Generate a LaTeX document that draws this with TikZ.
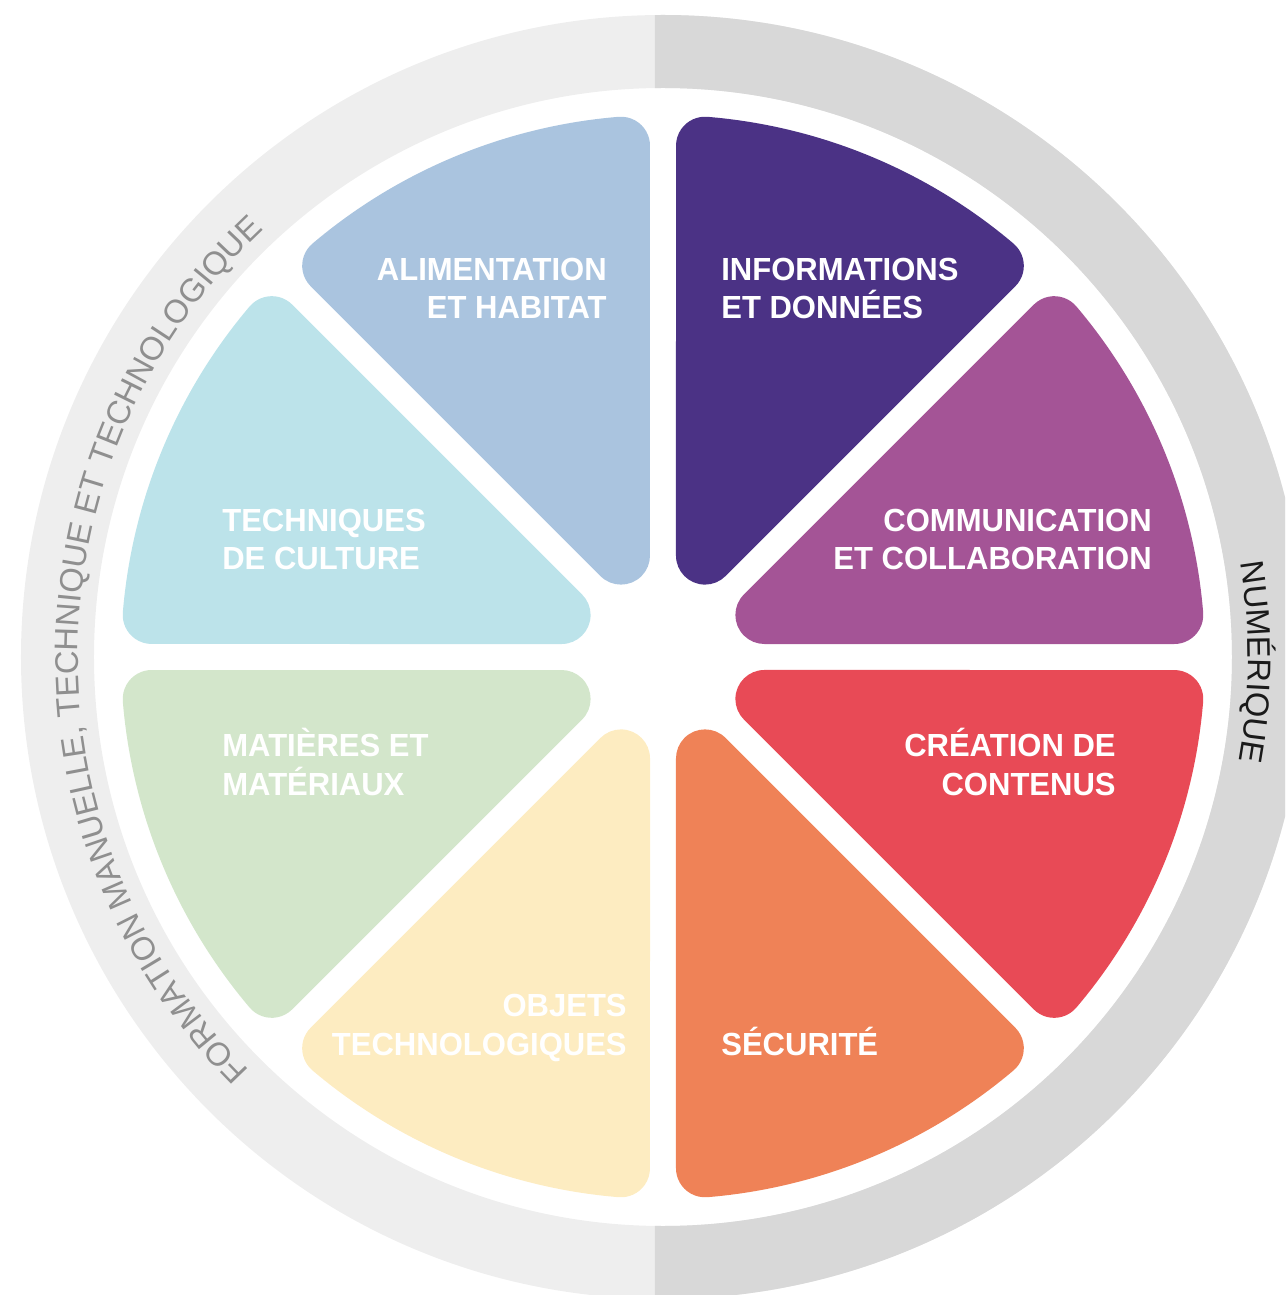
\documentclass[tikz,border=0pt]{standalone}
\usepackage{fontspec}
\setmainfont{Liberation Sans}
\newfontfamily\labelfont{Liberation Sans}[FakeStretch=0.97]
\usetikzlibrary{decorations.text}

\definecolor{ringlight}{HTML}{EEEEEE}
\definecolor{ringdark}{HTML}{D8D8D8}
\definecolor{ringgray}{HTML}{8F8F8F}
\definecolor{ringblack}{HTML}{1A1A1A}
\definecolor{commcol}{HTML}{A45496}
\definecolor{infocol}{HTML}{4B3285}
\definecolor{alimcol}{HTML}{AAC4DF}
\definecolor{techcol}{HTML}{BCE3EA}
\definecolor{matcol}{HTML}{D3E6CB}
\definecolor{objcol}{HTML}{FDECC1}
\definecolor{seccol}{HTML}{EF8257}
\definecolor{creacol}{HTML}{E84A56}

% one rounded wedge, from 0 to 45 degrees
\newcommand{\petal}{(101.39,13) -- (511.28,13)
  arc[start angle=-90, end angle=4.696, radius=29]
  arc[start angle=4.696, end angle=40.304, radius=542]
  arc[start angle=40.304, end angle=135, radius=29]
  -- (80.88,62.51) arc[start angle=135, end angle=270, radius=29] -- cycle}

\tikzset{
  petallabel/.style={text=white, inner sep=0pt, font=\labelfont\bfseries\fontsize{18.2}{22.1}\selectfont},
  ringtext/.style={decorate, decoration={text along path, text align=center, text={#1}}}
}

\begin{document}
\begin{tikzpicture}[x=0.02cm,y=0.02cm]
\useasboundingbox (-663,-638) rectangle (622,657);
\clip (-663,-638) rectangle (622,657);

%ring
\fill[ringlight, even odd rule] (0,0) circle (642) (0,0) circle (569);
\begin{scope}
\clip (-8,-700) rectangle (700,700);
\fill[ringdark, even odd rule] (0,0) circle (642) (0,0) circle (569);
\end{scope}

%ring text
\path[ringtext={|\color{ringgray}\fontsize{18.6}{22}\selectfont|FORMATION MANUELLE, TECHNIQUE ET TECHNOLOGIQUE}]
  (230:585) arc[start angle=230, end angle=128, radius=585];
\path[ringtext={|\color{ringblack}\fontsize{18.6}{22}\selectfont|NUMÉRIQUE}]
  (16:585) arc[start angle=16, end angle=-17, radius=585];

%petals
\fill[commcol, rotate=0] \petal;
\fill[infocol, rotate=45] \petal;
\fill[alimcol, rotate=90] \petal;
\fill[techcol, rotate=135] \petal;
\fill[matcol, rotate=180] \petal;
\fill[objcol, rotate=225] \petal;
\fill[seccol, rotate=270] \petal;
\fill[creacol, rotate=315] \petal;

%labels (base = last line)
\node[petallabel, anchor=base east, align=right] (alim) at (-56,338) {ALIMENTATION\\ET HABITAT};
\node[petallabel, anchor=base west, align=left] (info) at (58,338) {INFORMATIONS\\ET DONNÉES};
\node[petallabel, anchor=base west, align=left] (tech) at (-441,87) {TECHNIQUES\\DE CULTURE};
\node[petallabel, anchor=base east, align=right] (comm) at (489,87) {COMMUNICATION\\ET COLLABORATION};
\node[petallabel, anchor=base west, align=left] (mat) at (-441,-138) {MATIÈRES ET\\MATÉRIAUX};
\node[petallabel, anchor=base east, align=right] (crea) at (453,-138) {CRÉATION DE\\CONTENUS};
\node[petallabel, anchor=base east, align=right] (obj) at (-36,-398) {OBJETS\\TECHNOLOGIQUES};
\node[petallabel, anchor=base west, align=left] (sec) at (58,-398) {SÉCURITÉ};

\end{tikzpicture}
\end{document}
